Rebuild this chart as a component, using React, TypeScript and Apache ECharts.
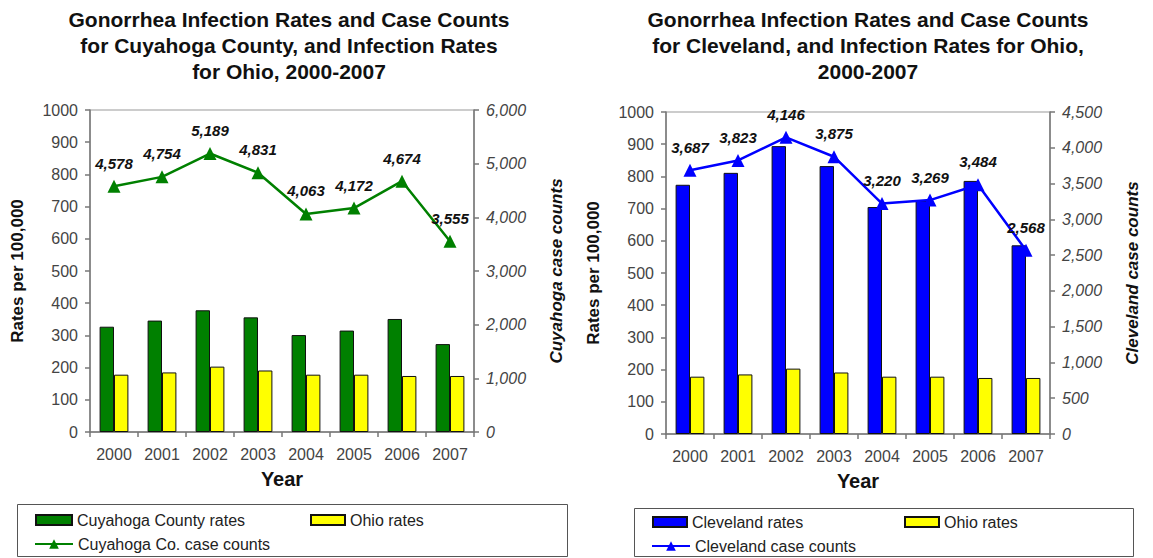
import React, { useEffect, useRef } from "react";
import * as echarts from "echarts";

const years = ["2000", "2001", "2002", "2003", "2004", "2005", "2006", "2007"];
const cuyahogaRates = [327, 346, 378, 356, 301, 315, 351, 273];
const ohioRates = [178, 185, 203, 191, 178, 178, 174, 174];
const cuyahogaCases = [4578, 4754, 5189, 4831, 4063, 4172, 4674, 3555];
const clevelandRates = [774, 811, 894, 832, 705, 724, 786, 586];
const clevelandCases = [3687, 3823, 4146, 3875, 3220, 3269, 3484, 2568];

const leftTitle = "Gonorrhea Infection Rates and Case Counts\nfor Cuyahoga County, and Infection Rates\nfor Ohio, 2000-2007";
const rightTitle = "Gonorrhea Infection Rates and Case Counts\nfor Cleveland, and Infection Rates for Ohio,\n2000-2007";

const FONT = '"Liberation Sans", Arial, sans-serif';
const GREEN = "#008000";
const BLUE = "#0000ff";
const YELLOW = "#ffff00";
const AXIS = "#777";
const TICK_TEXT = "#444";

const fmt = (v: number) => Number(v).toLocaleString("en-US");

function xAxis(gridIndex: number) {
  return {
    type: "category",
    gridIndex,
    data: years,
    boundaryGap: true,
    name: "Year",
    nameLocation: "middle",
    nameGap: 37,
    nameTextStyle: { fontFamily: FONT, fontSize: 20, fontWeight: "bold", color: "#111" },
    axisLine: { lineStyle: { color: AXIS, width: 1.5 } },
    axisTick: { show: true, length: 5, lineStyle: { color: AXIS, width: 1.5 } },
    axisLabel: { fontFamily: FONT, fontSize: 16, color: TICK_TEXT, margin: 14 },
  };
}

function leftY(gridIndex: number) {
  return {
    type: "value",
    gridIndex,
    position: "left",
    min: 0,
    max: 1000,
    interval: 100,
    name: "Rates per 100,000",
    nameLocation: "middle",
    nameGap: 64,
    nameTextStyle: { fontFamily: FONT, fontSize: 17, fontWeight: "bold", color: "#111" },
    axisLine: { show: true, lineStyle: { color: AXIS, width: 1.5 } },
    axisTick: { show: true, length: 5, lineStyle: { color: AXIS, width: 1.5 } },
    axisLabel: {
      fontFamily: FONT,
      fontSize: 16,
      color: TICK_TEXT,
      margin: 12,
      formatter: (v: number) => String(v),
    },
    splitLine: { show: false },
  };
}

function rightY(gridIndex: number, max: number, interval: number, name: string) {
  return {
    type: "value",
    gridIndex,
    position: "right",
    min: 0,
    max,
    interval,
    name,
    nameLocation: "middle",
    nameGap: 74,
    nameRotate: 90,
    nameTextStyle: { fontFamily: FONT, fontSize: 17, fontWeight: "bold", fontStyle: "italic", color: "#111" },
    axisLine: { show: true, lineStyle: { color: AXIS, width: 1.5 } },
    axisTick: { show: true, length: 5, lineStyle: { color: AXIS, width: 1.5 } },
    axisLabel: {
      fontFamily: FONT,
      fontSize: 16,
      fontStyle: "italic",
      color: TICK_TEXT,
      margin: 12,
      formatter: (v: number) => fmt(v),
    },
    splitLine: { show: false },
  };
}

function barSeries(name: string, data: number[], color: string, axisIdx: number) {
  return {
    type: "bar",
    name,
    xAxisIndex: axisIdx,
    yAxisIndex: axisIdx * 2,
    data,
    barGap: "0%",
    barCategoryGap: "40%",
    itemStyle: { color, borderColor: "#111", borderWidth: 1 },
    z: 2,
  };
}

function lineSeries(name: string, data: number[], color: string, axisIdx: number) {
  return {
    type: "line",
    name,
    xAxisIndex: axisIdx,
    yAxisIndex: axisIdx * 2 + 1,
    data,
    symbol: "triangle",
    symbolSize: 13,
    lineStyle: { color, width: 2.5 },
    itemStyle: { color },
    label: {
      show: true,
      position: "top",
      distance: 9,
      fontFamily: FONT,
      fontSize: 15,
      fontWeight: "bold",
      fontStyle: "italic",
      color: "#111",
      formatter: (p: any) => fmt(p.value),
    },
    z: 5,
  };
}

function legend(name: string, left: number, top: number, w: number, h: number, icon?: string) {
  const l: any = {
    data: [name],
    left,
    top,
    padding: 0,
    itemWidth: w,
    itemHeight: h,
    selectedMode: false,
    textStyle: { fontFamily: FONT, fontSize: 16, color: "#222" },
  };
  if (icon) l.icon = icon;
  return l;
}

export default function App() {
  const ref = useRef<HTMLDivElement>(null);
  useEffect(() => {
    if (!ref.current) return;
    const chart = echarts.init(ref.current, null, { renderer: "svg" });
    chart.setOption({
      animation: false,
      backgroundColor: "#ffffff",
      grid: [
        { left: 90, top: 110, width: 384, height: 322, show: true, borderColor: "#999", borderWidth: 1, containLabel: false },
        { left: 666, top: 112, width: 384, height: 322, show: true, borderColor: "#999", borderWidth: 1, containLabel: false },
      ],
      xAxis: [xAxis(0), xAxis(1)],
      yAxis: [
        leftY(0),
        rightY(0, 6000, 1000, "Cuyahoga case counts"),
        leftY(1),
        rightY(1, 4500, 500, "Cleveland case counts"),
      ],
      legend: [
        legend("Cuyahoga County rates", 35, 512, 36, 10, "rect"),
        legend("Ohio rates", 310, 512, 34, 10, "rect"),
        legend("Cuyahoga Co. case counts", 34, 536, 38, 12),
        legend("Cleveland rates", 652, 514, 34, 10, "rect"),
        legend("Ohio rates", 904, 514, 34, 10, "rect"),
        legend("Cleveland case counts", 651, 538, 38, 12),
      ],
      series: [
        barSeries("Cuyahoga County rates", cuyahogaRates, GREEN, 0),
        barSeries("Ohio rates", ohioRates, YELLOW, 0),
        lineSeries("Cuyahoga Co. case counts", cuyahogaCases, GREEN, 0),
        barSeries("Cleveland rates", clevelandRates, BLUE, 1),
        barSeries("Ohio rates", ohioRates, YELLOW, 1),
        lineSeries("Cleveland case counts", clevelandCases, BLUE, 1),
      ],
      graphic: [
        {
          type: "text",
          x: 289,
          y: 6,
          style: {
            text: leftTitle,
            align: "center",
            verticalAlign: "top",
            fontFamily: FONT,
            fontSize: 21,
            fontWeight: "bold",
            lineHeight: 26,
            fill: "#111",
          },
        },
        {
          type: "text",
          x: 868,
          y: 6,
          style: {
            text: rightTitle,
            align: "center",
            verticalAlign: "top",
            fontFamily: FONT,
            fontSize: 21,
            fontWeight: "bold",
            lineHeight: 26,
            fill: "#111",
          },
        },
        {
          type: "rect",
          shape: { x: 17.5, y: 504.5, width: 550, height: 52 },
          style: { fill: "none", stroke: "#555", lineWidth: 1 },
          z: -1,
        },
        {
          type: "rect",
          shape: { x: 634.5, y: 508.5, width: 499, height: 48 },
          style: { fill: "none", stroke: "#555", lineWidth: 1 },
          z: -1,
        },
      ],
    });
    return () => chart.dispose();
  }, []);
  return (
    <div
      ref={ref}
      style={{ position: "absolute", left: 0, top: 0, width: 1153, height: 558 }}
    />
  );
}
